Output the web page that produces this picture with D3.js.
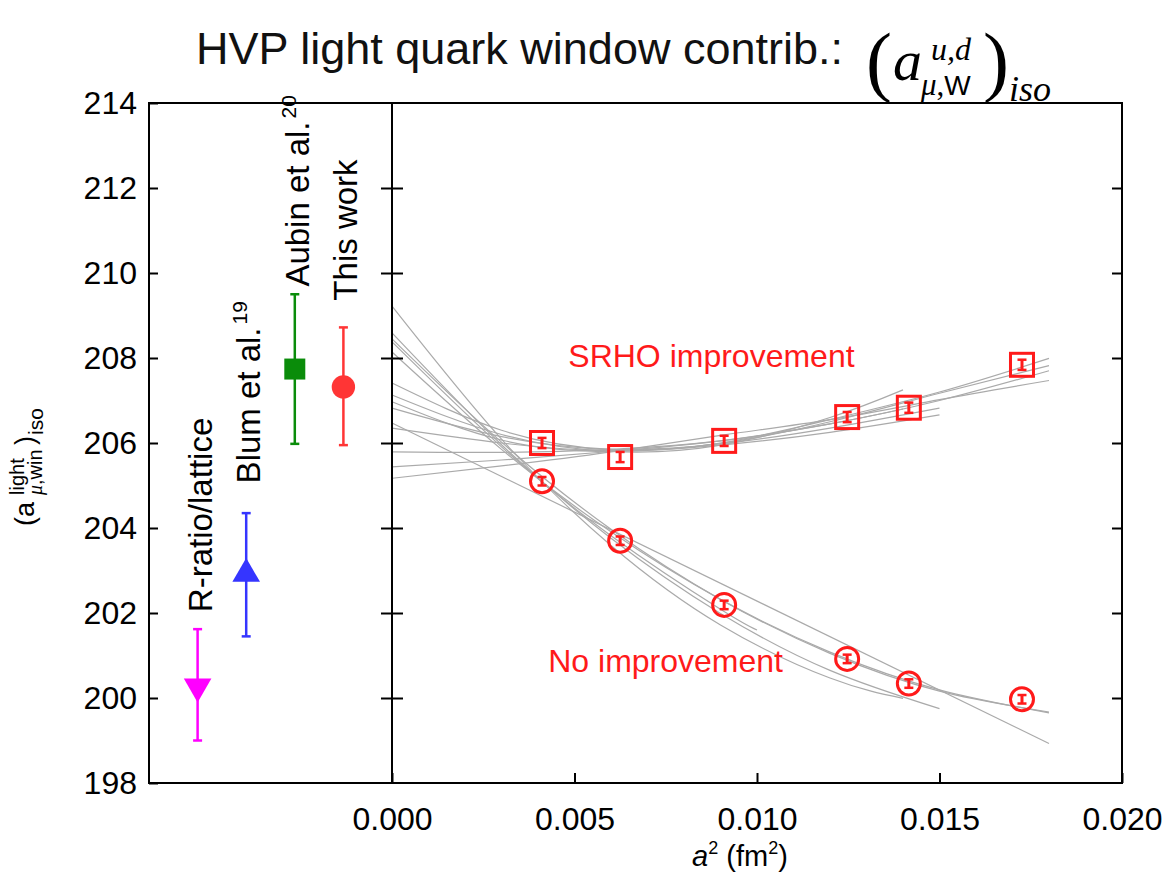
<!DOCTYPE html>
<html><head><meta charset="utf-8">
<script src="https://cdn.jsdelivr.net/npm/d3@7/dist/d3.min.js"></script>
<style>body{margin:0;background:#fff}</style>
</head><body>
<svg id="chart" width="1165" height="877"></svg>
<script>
// ---------- data ----------
const refCats = ["R-ratio/lattice", "Blum et al.", "Aubin et al.", "This work"];
const refSup = ["", "19", "20", ""];
const refValue = [200.27, 202.92, 207.74, 207.32];
const refLow = [199.0, 201.45, 205.98, 205.95];
const refHigh = [201.62, 204.35, 209.5, 208.72];
const refLabelAt = [202.02, 205.05, 209.68, 209.35];
const refColors = ["#ff00ff", "#3535ff", "#0a8c0a", "#ff3535"];
const refShapes = ["triangleDown", "triangleUp", "square", "circle"];

const a2 = [0.00411, 0.00625, 0.0091, 0.01247, 0.01416, 0.01726];
const srho = [206.0, 205.67, 206.05, 206.61, 206.83, 207.84];
const srhoErr = [0.12, 0.12, 0.12, 0.12, 0.12, 0.12];
const noImp = [205.1, 203.7, 202.19, 200.92, 200.34, 199.97];
const noImpErr = [0.1, 0.1, 0.1, 0.1, 0.1, 0.1];

const yTicks = [198, 200, 202, 204, 206, 208, 210, 212, 214];
const xTicks = [0.000, 0.005, 0.010, 0.015, 0.020];

// fit curves: [a^2, value]
const fitsNoImp = [
  [[0,208.14],[0.003,205.85],[0.006,203.91],[0.009,202.32],[0.012,201.08],[0.015,200.19],[0.018,199.65]],
  [[0,208.45],[0.003,206.02],[0.006,203.97],[0.009,202.32],[0.012,201.05],[0.015,200.16],[0.018,199.67]],
  [[0,206.47],[0.018,198.93]],
  [[0,209.22],[0.003,206.09],[0.006,203.59],[0.009,201.72],[0.012,200.47],[0.014,199.99]],
  [[0,208.59],[0.003,205.96],[0.006,203.76],[0.009,201.99],[0.012,200.65],[0.015,199.75]],
  [[0,208.38],[0.003,205.91],[0.006,203.82],[0.009,202.09],[0.010,201.6]]
];
const fitsSrho = [
  [[0,207.41],[0.003,206.3],[0.006,205.85],[0.009,206.0],[0.012,206.55],[0.015,207.2],[0.018,207.99]],
  [[0,206.97],[0.003,206.07],[0.006,205.8],[0.009,205.99],[0.012,206.5],[0.015,207.17],[0.018,207.82]],
  [[0,205.17],[0.003,205.46],[0.006,205.79],[0.009,206.18],[0.012,206.55],[0.015,207.02],[0.018,207.47]],
  [[0,207.13],[0.003,206.2],[0.006,205.8],[0.009,205.95],[0.012,206.6],[0.014,207.25]],
  [[0,206.82],[0.003,206.15],[0.006,205.85],[0.009,205.98],[0.012,206.35],[0.015,206.82]],
  [[0,206.35],[0.003,206.0],[0.006,205.82],[0.009,205.95],[0.012,206.25],[0.015,206.66]],
  [[0,205.79],[0.003,205.78],[0.006,205.85],[0.009,206.05],[0.012,206.45],[0.015,207.0],[0.018,207.7]],
  [[0,205.44],[0.003,205.6],[0.006,205.8],[0.009,206.05],[0.012,206.45],[0.014,206.8]]
];

// ---------- layout ----------
const L = 149, D = 392, R = 1122, T = 103, B = 783;
const FONT = "'Liberation Sans', Arial, Helvetica, sans-serif";
const SERIF = "'Liberation Serif', 'Times New Roman', serif";
const red = "#ff1a1a";

const svg = d3.select("#chart");
const y = d3.scaleLinear().domain([198, 214]).range([B, T]);
const x = d3.scaleLinear().domain([0, 0.02]).range([D, R]);
const xc = d3.scalePoint().domain(refCats).range([L, D]).padding(1);

// ---------- fit lines ----------
const line = d3.line().x(d => x(d[0])).y(d => y(d[1])).curve(d3.curveNatural);
svg.append("g").selectAll("path").data(fitsNoImp.concat(fitsSrho)).join("path")
  .attr("d", line).attr("fill", "none").attr("stroke", "#aaaaaa").attr("stroke-width", 1.2);

// ---------- axes ----------
const fs = 32;
function styleAxis(g) {
  g.select(".domain").remove();
  g.selectAll(".tick line").attr("stroke", "#000").attr("stroke-width", 2);
  g.selectAll("text").attr("font-family", FONT).attr("font-size", fs).attr("fill", "#000");
}
svg.append("g").attr("transform", `translate(${L},0)`)
  .call(d3.axisLeft(y).tickValues(yTicks).tickSize(-9).tickPadding(12).tickFormat(d3.format("d")))
  .call(styleAxis);
svg.append("g").attr("transform", `translate(${D},0)`)
  .call(d3.axisLeft(y).tickValues(yTicks.slice(1, -1)).tickSize(11).tickFormat(""))
  .call(styleAxis);
svg.append("g").attr("transform", `translate(${D},0)`)
  .call(d3.axisRight(y).tickValues(yTicks.slice(1, -1)).tickSize(11).tickFormat(""))
  .call(styleAxis);
svg.append("g").attr("transform", `translate(${R},0)`)
  .call(d3.axisLeft(y).tickValues(yTicks.slice(1, -1)).tickSize(10).tickFormat(""))
  .call(styleAxis);
svg.append("g").attr("transform", `translate(0,${B})`)
  .call(d3.axisBottom(x).tickValues(xTicks).tickSize(-10).tickPadding(24).tickFormat(d3.format(".3f")))
  .call(styleAxis);

// frame
svg.append("rect").attr("x", L).attr("y", T).attr("width", R - L).attr("height", B - T)
  .attr("fill", "none").attr("stroke", "#000").attr("stroke-width", 2);
svg.append("line").attr("x1", D).attr("x2", D).attr("y1", T).attr("y2", B)
  .attr("stroke", "#000").attr("stroke-width", 2);

// ---------- reference results (left panel) ----------
function symPath(shape) {
  if (shape === "square") return d3.symbol(d3.symbolSquare, 441)();
  if (shape === "circle") return d3.symbol(d3.symbolCircle, 430)();
  return d3.symbol(d3.symbolTriangle, 330)();
}
refCats.forEach((c, i) => {
  const g = svg.append("g");
  const cx = xc(c), col = refColors[i];
  g.append("line").attr("x1", cx).attr("x2", cx).attr("y1", y(refLow[i])).attr("y2", y(refHigh[i]))
    .attr("stroke", col).attr("stroke-width", 2.5);
  [refLow[i], refHigh[i]].forEach(v => g.append("line").attr("x1", cx - 4.5).attr("x2", cx + 4.5)
    .attr("y1", y(v)).attr("y2", y(v)).attr("stroke", col).attr("stroke-width", 2.5));
  const rot = refShapes[i] === "triangleDown" ? 180 : 0;
  g.append("path").attr("d", symPath(refShapes[i]))
    .attr("transform", `translate(${cx},${y(refValue[i])}) rotate(${rot})`).attr("fill", col);
  const t = svg.append("text").attr("transform", `translate(${cx + 14},${y(refLabelAt[i])}) rotate(-90)`)
    .attr("font-family", FONT).attr("font-size", 33).attr("fill", "#000").text(c);
  if (refSup[i]) t.append("tspan").attr("font-size", 21).attr("dx", 3).attr("dy", -13).text(refSup[i]);
});

// ---------- lattice data (right panel) ----------
function errI(g, cx, v, e) {
  g.append("line").attr("x1", cx).attr("x2", cx).attr("y1", y(v - e)).attr("y2", y(v + e))
    .attr("stroke", red).attr("stroke-width", 3);
  [v - e, v + e].forEach(w => g.append("line").attr("x1", cx - 4.5).attr("x2", cx + 4.5)
    .attr("y1", y(w)).attr("y2", y(w)).attr("stroke", red).attr("stroke-width", 2.5));
}
const gS = svg.append("g");
a2.forEach((xv, i) => {
  gS.append("rect").attr("x", x(xv) - 11.5).attr("y", y(srho[i]) - 11.5).attr("width", 23).attr("height", 23)
    .attr("fill", "none").attr("stroke", red).attr("stroke-width", 3);
  errI(gS, x(xv), srho[i], srhoErr[i]);
});
const gN = svg.append("g");
a2.forEach((xv, i) => {
  gN.append("circle").attr("cx", x(xv)).attr("cy", y(noImp[i])).attr("r", 11.5)
    .attr("fill", "none").attr("stroke", red).attr("stroke-width", 3);
  errI(gN, x(xv), noImp[i], noImpErr[i]);
});

svg.append("text").attr("x", x(0.00483)).attr("y", y(207.8)).attr("font-family", FONT)
  .attr("font-size", 32).attr("fill", red).text("SRHO improvement");
svg.append("text").attr("x", x(0.00428)).attr("y", y(200.62)).attr("font-family", FONT)
  .attr("font-size", 32).attr("fill", red).text("No improvement");

// ---------- axis titles ----------
const xl = svg.append("text").attr("x", 740).attr("y", 866).attr("text-anchor", "middle")
  .attr("font-family", FONT).attr("font-size", 29).attr("fill", "#000");
xl.append("tspan").attr("font-style", "italic").text("a");
xl.append("tspan").attr("font-size", 18).attr("dy", -12).text("2");
xl.append("tspan").attr("dy", 12).text(" (fm");
xl.append("tspan").attr("font-size", 18).attr("dy", -12).text("2");
xl.append("tspan").attr("dy", 12).text(")");

const yl = svg.append("g").attr("transform", "translate(34,526) rotate(-90)")
  .attr("font-family", FONT).attr("fill", "#000");
yl.append("text").attr("x", 0).attr("y", 0).attr("font-size", 27).text("(a");
yl.append("text").attr("x", 31).attr("y", -10).attr("font-size", 20).text("light");
const sub = yl.append("text").attr("x", 31).attr("y", 8).attr("font-size", 20);
sub.append("tspan").attr("font-family", SERIF).attr("font-style", "italic").text("μ");
sub.append("tspan").text(",win");
yl.append("text").attr("x", 81).attr("y", 0).attr("font-size", 27).text(")");
yl.append("text").attr("x", 91).attr("y", 9).attr("font-size", 21).text("iso");

// ---------- title ----------
svg.append("text").attr("x", 196).attr("y", 64).attr("font-family", FONT).attr("font-size", 45)
  .attr("fill", "#111").text("HVP light quark window contrib.:");
const M = svg.append("g").attr("font-family", SERIF).attr("fill", "#000");
M.append("text").attr("x", 866).attr("y", 87).attr("font-size", 78).text("(");
M.append("text").attr("x", 893).attr("y", 80).attr("font-size", 58).attr("font-style", "italic").text("a");
M.append("text").attr("x", 931).attr("y", 60).attr("font-size", 32).attr("font-style", "italic").text("u,d");
const mw = M.append("text").attr("x", 921).attr("y", 95).attr("font-size", 31);
mw.append("tspan").attr("font-style", "italic").text("μ");
mw.append("tspan").text(",");
mw.append("tspan").attr("font-family", FONT).attr("font-size", 28).text("W");
M.append("text").attr("x", 983).attr("y", 87).attr("font-size", 78).text(")");
M.append("text").attr("x", 1009).attr("y", 101).attr("font-size", 36).attr("font-style", "italic").text("iso");
</script>
</body></html>
